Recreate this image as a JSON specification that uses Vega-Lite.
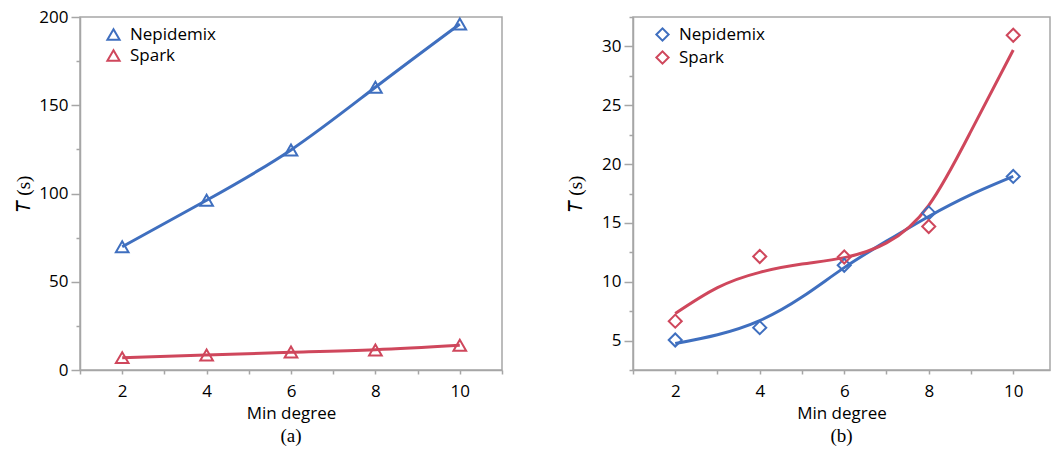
{
  "$schema": "https://vega.github.io/schema/vega-lite/v6.json",
  "padding": {"left": 14, "top": 7, "right": 0, "bottom": 0},
  "background": "white",
  "datasets": {
    "points": [
      {"panel": "a", "series": "Nepidemix", "x": 2, "y": 69.8},
      {"panel": "a", "series": "Nepidemix", "x": 4, "y": 96.2},
      {"panel": "a", "series": "Nepidemix", "x": 6, "y": 124.7},
      {"panel": "a", "series": "Nepidemix", "x": 8, "y": 160.2},
      {"panel": "a", "series": "Nepidemix", "x": 10, "y": 196},
      {"panel": "a", "series": "Spark", "x": 2, "y": 7.0},
      {"panel": "a", "series": "Spark", "x": 4, "y": 8.5},
      {"panel": "a", "series": "Spark", "x": 6, "y": 10.2},
      {"panel": "a", "series": "Spark", "x": 8, "y": 11.3},
      {"panel": "a", "series": "Spark", "x": 10, "y": 14.0},
      {"panel": "b", "series": "Nepidemix", "x": 2, "y": 5.05},
      {"panel": "b", "series": "Nepidemix", "x": 4, "y": 6.1},
      {"panel": "b", "series": "Nepidemix", "x": 6, "y": 11.4},
      {"panel": "b", "series": "Nepidemix", "x": 8, "y": 15.85},
      {"panel": "b", "series": "Nepidemix", "x": 10, "y": 18.95},
      {"panel": "b", "series": "Spark", "x": 2, "y": 6.65},
      {"panel": "b", "series": "Spark", "x": 4, "y": 12.15},
      {"panel": "b", "series": "Spark", "x": 6, "y": 12.1},
      {"panel": "b", "series": "Spark", "x": 8, "y": 14.7},
      {"panel": "b", "series": "Spark", "x": 10, "y": 30.95}
    ],
    "curves": [
      {"panel": "a", "series": "Nepidemix", "x": 2, "y": 69.8},
      {"panel": "a", "series": "Nepidemix", "x": 4, "y": 96.2},
      {"panel": "a", "series": "Nepidemix", "x": 6, "y": 124.7},
      {"panel": "a", "series": "Nepidemix", "x": 8, "y": 160.2},
      {"panel": "a", "series": "Nepidemix", "x": 10, "y": 196},
      {"panel": "a", "series": "Spark", "x": 2, "y": 7.0},
      {"panel": "a", "series": "Spark", "x": 4, "y": 8.5},
      {"panel": "a", "series": "Spark", "x": 6, "y": 10.0},
      {"panel": "a", "series": "Spark", "x": 8, "y": 11.5},
      {"panel": "a", "series": "Spark", "x": 10, "y": 14.0},
      {"panel": "b", "series": "Nepidemix", "x": 2, "y": 4.75},
      {"panel": "b", "series": "Nepidemix", "x": 3, "y": 5.5},
      {"panel": "b", "series": "Nepidemix", "x": 4, "y": 6.7},
      {"panel": "b", "series": "Nepidemix", "x": 5, "y": 8.7},
      {"panel": "b", "series": "Nepidemix", "x": 6, "y": 11.2},
      {"panel": "b", "series": "Nepidemix", "x": 7, "y": 13.45},
      {"panel": "b", "series": "Nepidemix", "x": 8, "y": 15.55},
      {"panel": "b", "series": "Nepidemix", "x": 9, "y": 17.4},
      {"panel": "b", "series": "Nepidemix", "x": 10, "y": 18.95},
      {"panel": "b", "series": "Spark", "x": 2, "y": 7.3},
      {"panel": "b", "series": "Spark", "x": 3, "y": 9.5},
      {"panel": "b", "series": "Spark", "x": 4, "y": 10.8},
      {"panel": "b", "series": "Spark", "x": 5, "y": 11.5},
      {"panel": "b", "series": "Spark", "x": 6, "y": 12.05},
      {"panel": "b", "series": "Spark", "x": 7, "y": 13.3},
      {"panel": "b", "series": "Spark", "x": 8, "y": 16.5},
      {"panel": "b", "series": "Spark", "x": 9, "y": 22.8},
      {"panel": "b", "series": "Spark", "x": 10, "y": 29.7}
    ]
  },
  "config": {
    "font": "Open Sans",
    "view": {"stroke": "#a6a6a6", "strokeWidth": 1.5},
    "concat": {"spacing": 61},
    "axis": {
      "grid": false,
      "tickCount": 30,
      "domainColor": "#a6a6a6",
      "domainWidth": 1.5,
      "tickColor": "#a6a6a6",
      "tickWidth": 1.5,
      "labelFont": "Open Sans",
      "labelFontSize": 17,
      "labelColor": "#000000",
      "labelOverlap": false,
      "labelFlush": false,
      "titleFont": "Open Sans",
      "titleFontSize": 17,
      "titleFontWeight": "normal",
      "titleColor": "#000000"
    },
    "legend": {
      "labelFont": "Open Sans",
      "labelFontSize": 17,
      "labelColor": "#000000",
      "symbolStrokeWidth": 2,
      "symbolSize": 150,
      "rowPadding": 2,
      "labelOffset": 8,
      "padding": 0
    },
    "title": {"font": "Liberation Serif", "fontSize": 19, "fontWeight": "normal", "color": "#000000"}
  },
  "resolve": {"scale": {"color": "independent"}, "legend": {"color": "independent"}},
  "hconcat": [
    {
      "width": 422,
      "height": 353,
      "title": {"text": "(a)", "orient": "bottom", "offset": 6},
      "layer": [
        {
          "data": {"name": "curves"},
          "transform": [{"filter": "datum.panel == 'a'"}],
          "mark": {"type": "line", "interpolate": "natural", "strokeWidth": 3},
          "encoding": {
            "x": {"field": "x", "type": "quantitative", "scale": {"domain": [1, 11], "nice": false},
                  "axis": {"values": [1,2,3,4,5,6,7,8,9,10,11], "format": "d", "labelExpr": "datum.value % 2 == 0 ? datum.label : ''", "tickSize": 4, "labelPadding": 9, "titlePadding": 6},
                  "title": "Min degree"},
            "y": {"field": "y", "type": "quantitative", "scale": {"domain": [0, 200], "nice": false},
                  "axis": {"values": [0,25,50,75,100,125,150,175,200], "format": "d", "labelExpr": "datum.value % 50 == 0 ? datum.label : ''",
                           "tickSize": {"condition": {"test": "datum.value % 50 == 0", "value": 9}, "value": 4},
                           "labelPadding": 3, "titleFont": "Liberation Serif", "titleFontSize": 19, "titlePadding": 5},
                  "title": "𝑇 (s)"},
            "color": {"field": "series", "type": "nominal", "scale": {"domain": ["Nepidemix", "Spark"], "range": ["#3f6fbf", "#cf475c"]},
                      "legend": {"title": null, "orient": "none", "legendX": 25, "legendY": 9, "symbolType": "triangle-up", "symbolFillColor": "transparent"}}
          }
        },
        {
          "data": {"name": "points"},
          "transform": [{"filter": "datum.panel == 'a'"}],
          "mark": {"type": "point", "shape": "triangle-up", "filled": false, "size": 160, "strokeWidth": 2, "opacity": 1},
          "encoding": {
            "x": {"field": "x", "type": "quantitative"},
            "y": {"field": "y", "type": "quantitative"},
            "color": {"field": "series", "type": "nominal",
                      "legend": {"title": null, "orient": "none", "legendX": 25, "legendY": 9, "symbolType": "triangle-up", "symbolFillColor": "transparent"}}
          }
        }
      ]
    },
    {
      "width": 417,
      "height": 353,
      "title": {"text": "(b)", "orient": "bottom", "offset": 6},
      "layer": [
        {
          "data": {"name": "curves"},
          "transform": [{"filter": "datum.panel == 'b'"}],
          "mark": {"type": "line", "interpolate": "natural", "strokeWidth": 3},
          "encoding": {
            "x": {"field": "x", "type": "quantitative", "scale": {"domain": [1, 10.87], "nice": false},
                  "axis": {"values": [1,2,3,4,5,6,7,8,9,10], "format": "d", "labelExpr": "datum.value % 2 == 0 ? datum.label : ''", "tickSize": 4, "labelPadding": 9, "titlePadding": 6},
                  "title": "Min degree"},
            "y": {"field": "y", "type": "quantitative", "scale": {"domain": [2.5, 32.5], "nice": false, "zero": false},
                  "axis": {"values": [2.5,5,7.5,10,12.5,15,17.5,20,22.5,25,27.5,30,32.5], "format": "d", "labelExpr": "datum.value % 5 == 0 ? datum.label : ''",
                           "tickSize": {"condition": {"test": "datum.value % 5 == 0", "value": 9}, "value": 4},
                           "labelPadding": 3, "titleFont": "Liberation Serif", "titleFontSize": 19, "titlePadding": 16},
                  "title": "𝑇 (s)"},
            "color": {"field": "series", "type": "nominal", "scale": {"domain": ["Nepidemix", "Spark"], "range": ["#3f6fbf", "#cf475c"]},
                      "legend": {"title": null, "orient": "none", "legendX": 21, "legendY": 9, "symbolType": "diamond", "symbolFillColor": "transparent"}}
          }
        },
        {
          "data": {"name": "points"},
          "transform": [{"filter": "datum.panel == 'b'"}],
          "mark": {"type": "point", "shape": "diamond", "filled": false, "size": 170, "strokeWidth": 2, "opacity": 1},
          "encoding": {
            "x": {"field": "x", "type": "quantitative"},
            "y": {"field": "y", "type": "quantitative"},
            "color": {"field": "series", "type": "nominal",
                      "legend": {"title": null, "orient": "none", "legendX": 21, "legendY": 9, "symbolType": "diamond", "symbolFillColor": "transparent"}}
          }
        }
      ]
    }
  ]
}
